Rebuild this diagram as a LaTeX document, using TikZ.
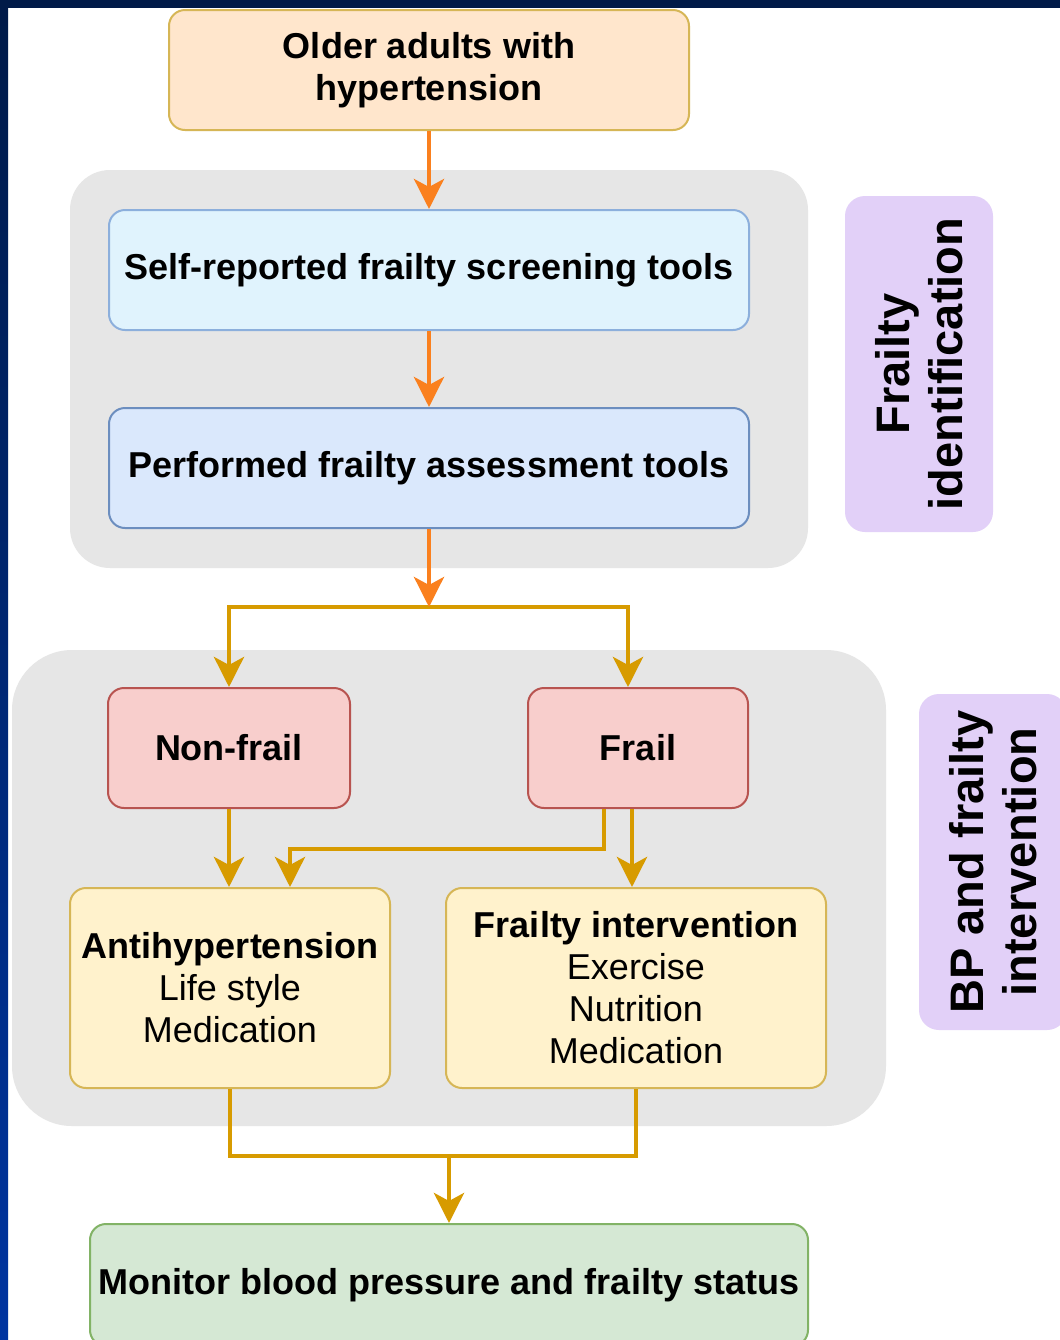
\documentclass[tikz,border=0pt]{standalone}
\usepackage{fontspec}
\setmainfont{Liberation Sans}
\usetikzlibrary{arrows.meta}
\definecolor{navy1}{RGB}{0, 26, 72}
\definecolor{navy2}{RGB}{0, 52, 160}
\definecolor{orange1}{RGB}{250, 128, 30}
\definecolor{gold1}{RGB}{215, 155, 0}
\definecolor{gold2}{RGB}{214, 182, 86}
\definecolor{peach1}{RGB}{255, 230, 204}
\definecolor{blue1}{RGB}{224, 243, 253}
\definecolor{blue2}{RGB}{218, 232, 252}
\definecolor{blue3}{RGB}{140, 175, 220}
\definecolor{blue4}{RGB}{108, 142, 191}
\definecolor{red1}{RGB}{248, 206, 204}
\definecolor{red2}{RGB}{184, 84, 80}
\definecolor{yellow1}{RGB}{255, 242, 204}
\definecolor{green1}{RGB}{213, 232, 212}
\definecolor{green2}{RGB}{130, 179, 102}
\definecolor{purple1}{RGB}{226, 208, 248}
\definecolor{gray1}{RGB}{230, 230, 230}

\begin{document}
\begin{tikzpicture}[x=0.5pt, y=-0.5pt, line width=1pt,
  >={Stealth[length=15pt,width=15pt,inset=4pt]},
  box/.style={rounded corners=8pt, inner sep=1pt, align=center,
    font=\bfseries\fontsize{18}{21}\selectfont},
  side/.style={rounded corners=10pt, fill=purple1, rotate=90, align=center,
    minimum width=168pt, minimum height=74pt,
    font=\bfseries\fontsize{23.5}{26.5}\selectfont},
  group/.style={fill=gray1, rounded corners=20pt},
  orangearrow/.style={draw=orange1, line width=2.2pt, ->},
  goldline/.style={draw=gold1, line width=2.3pt}]
 \clip (0,0) rectangle (1060,1340);
 \fill[white] (0,0) rectangle (1060,1340);
 \fill[navy1] (0,0) rectangle (1060,8);
 \shade[top color=navy1, bottom color=navy2] (0,0) rectangle (8,1340);

 \fill[group] (70,170) rectangle (808,568);
 \fill[group, rounded corners=30pt] (12,650) rectangle (886,1126);

  \node[box, fill=peach1, draw=gold2, minimum width=260pt, minimum height=60pt] (adults) at (429,70) {Older adults with\\hypertension};
  \node[box, fill=blue1, draw=blue3, minimum width=320pt, minimum height=60pt] (selfrep) at (429,270) {Self-reported frailty screening tools};
  \node[box, fill=blue2, draw=blue4, minimum width=320pt, minimum height=60pt] (perform) at (429,468) {Performed frailty assessment tools};

  \node[box, fill=red1, draw=red2, minimum width=121pt, minimum height=60pt] (nonfrail) at (229,748) {Non-frail};
  \node[box, fill=red1, draw=red2, minimum width=110pt, minimum height=60pt] (frail) at (638,748) {Frail};

  \node[box, fill=yellow1, draw=gold2, minimum width=160pt, minimum height=100pt] (antihyp) at (230,988) {Antihypertension\\{\mdseries Life style}\\{\mdseries Medication}};
  \node[box, fill=yellow1, draw=gold2, minimum width=190pt, minimum height=100pt] (frailint) at (636,988) {Frailty intervention\\{\mdseries Exercise}\\{\mdseries Nutrition}\\{\mdseries Medication}};

  \node[box, fill=green1, draw=green2, minimum width=359pt, minimum height=61pt] (monitor) at (449,1285) {Monitor blood pressure and frailty status};

  \node[side] (ident) at (919,364) {Frailty\\identification};
  \node[side] (bpint) at (993,862) {BP and frailty\\intervention};

  \coordinate (split) at (429,607);
  \coordinate (join) at (449,1156);

  \draw[goldline,->] (split) -| (nonfrail.north);
  \draw[goldline,->] (split) -| ([xshift=-5pt]frail.north);
  \foreach \from/\to in {adults/selfrep, selfrep/perform, perform/split}
   \draw[orangearrow] (\from) -- (\to);

  \draw[goldline,->] (nonfrail.south) -- (nonfrail.south |- antihyp.north);
  \draw[goldline,->] ([xshift=-17pt]frail.south) -- ++(0,40) -| ([xshift=30pt]antihyp.north);
  \draw[goldline,->] ([xshift=-3pt]frail.south) -- ([xshift=-3pt]frail.south |- frailint.north);
  %\draw[goldline] (antihyp.south) -- ++(0,68);
  \draw[goldline] (antihyp.south) |- (join) -| (frailint.south);
  \draw[goldline,->] (join) -- (monitor);
\end{tikzpicture}
\end{document}
